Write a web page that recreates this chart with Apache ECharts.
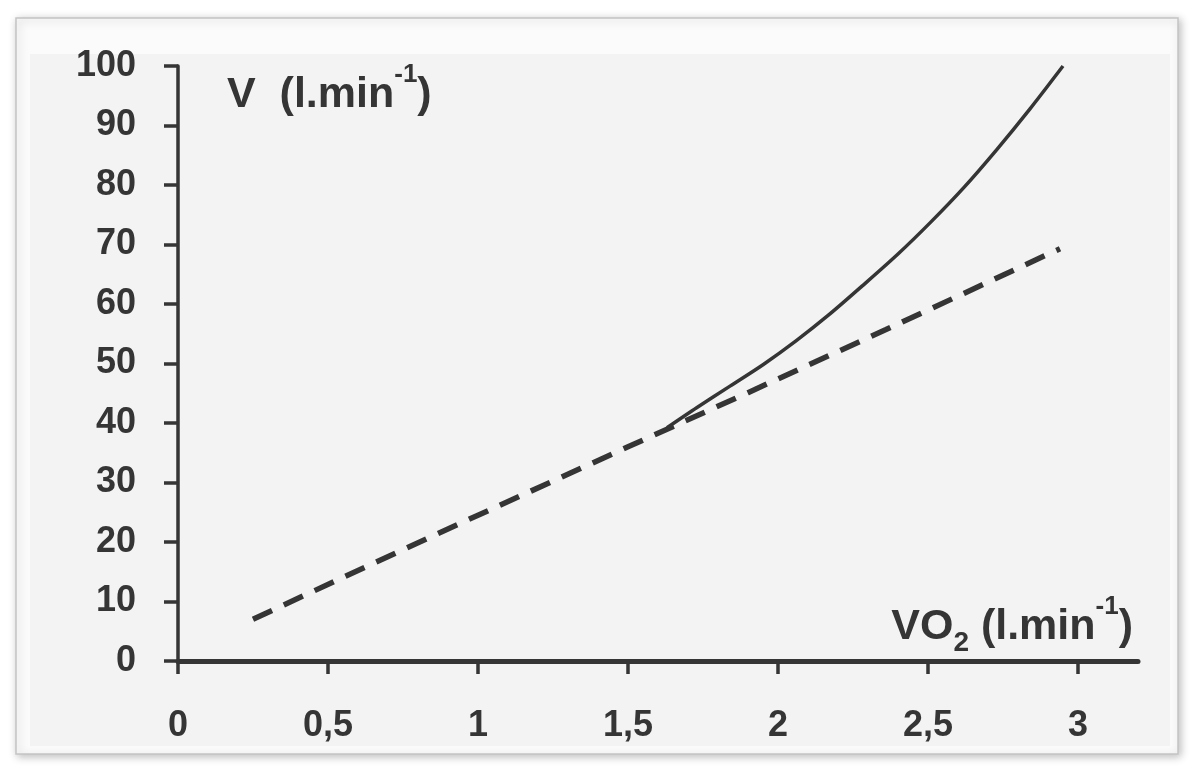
<!DOCTYPE html>
<html>
<head>
<meta charset="utf-8">
<script src="https://cdn.jsdelivr.net/npm/echarts@6/dist/echarts.min.js"></script>
<style>
  html, body { margin: 0; padding: 0; background: #fff; }
  #main { width: 1194px; height: 771px; }
</style>
</head>
<body>
<div id="main"></div>
<script>
// VO2 (l.min-1) vs ventilation V (l.min-1)
const xTicks = [0, 0.5, 1, 1.5, 2, 2.5, 3];
const yTicks = [0, 10, 20, 30, 40, 50, 60, 70, 80, 90, 100];

// measured ventilation, solid curve
const ventX = [1.63, 1.73, 1.84, 1.95, 2.06, 2.17, 2.28, 2.40, 2.51, 2.62, 2.73, 2.84, 2.95];
const ventY = [39.2, 42.6, 46.2, 49.8, 53.8, 58.2, 63.0, 68.4, 73.8, 79.6, 86.0, 92.8, 100];

// linear trend, dashed
const trendX = [0.25, 0.65, 1.0, 1.5, 1.9, 2.36, 2.94];
const trendY = [7.0, 16.4, 24.5, 36.0, 45.1, 55.7, 69.3];

const ink = '#353535';
const font = "'Liberation Sans', Arial, sans-serif";

// rich text pieces shared by both axis names
const nameRich = {
  a: { fontFamily: font, fontWeight: 'bold', fontSize: 43, color: ink, verticalAlign: 'bottom', padding: [12, 0, 8, 0] },
  sub: { fontFamily: font, fontWeight: 'bold', fontSize: 28, color: ink, verticalAlign: 'bottom' },
  sup: { fontFamily: font, fontWeight: 'bold', fontSize: 26, color: ink, verticalAlign: 'top' }
};

const myChart = echarts.init(document.getElementById('main'));
myChart.setOption({
  backgroundColor: '#ffffff',
  animation: false,
  graphic: [
    {
      type: 'rect',
      z: -10,
      shape: { x: 16, y: 18, width: 1162, height: 736 },
      style: { fill: '#fbfbfb', stroke: '#c4c4c4', lineWidth: 1.5,
               shadowBlur: 8, shadowColor: 'rgba(0,0,0,0.25)', shadowOffsetX: 2, shadowOffsetY: 2 }
    },
    {
      type: 'rect',
      z: -9,
      shape: { x: 30, y: 54, width: 1140, height: 692 },
      style: { fill: '#f3f3f3' }
    }
  ],
  grid: {
    left: 178,
    right: 56,
    top: 66,
    bottom: 110,
    containLabel: false,
    outerBoundsMode: 'none'
  },
  xAxis: {
    type: 'value',
    min: 0,
    max: 3.2,
    interval: 0.5,
    name: '{a|VO}{sub|2}{a| (l.min}{sup|-1}{a|)}',
    nameLocation: 'end',
    nameGap: -5,
    nameTextStyle: {
      align: 'right',
      verticalAlign: 'bottom',
      padding: [0, 0, 4, 0],
      rich: nameRich
    },
    splitLine: { show: false },
    axisLine: { onZero: false, lineStyle: { color: ink, width: 5 } },
    axisTick: { show: true, length: 13, customValues: xTicks, lineStyle: { color: ink, width: 3.5 } },
    axisLabel: {
      customValues: xTicks,
      margin: 47,
      fontFamily: font,
      fontWeight: 'bold',
      fontSize: 36,
      color: ink,
      formatter: v => String(v).replace('.', ',')
    }
  },
  yAxis: {
    type: 'value',
    min: 0,
    max: 100,
    interval: 10,
    name: '{a|V  (l.min}{sup|-1}{a|)}',
    nameLocation: 'end',
    nameGap: -27,
    nameTextStyle: {
      align: 'left',
      verticalAlign: 'middle',
      padding: [0, 0, 0, 49],
      rich: nameRich
    },
    splitLine: { show: false },
    axisLine: { show: true, lineStyle: { color: ink, width: 3.5 } },
    axisTick: { show: true, length: 14, customValues: yTicks, lineStyle: { color: ink, width: 3.5 } },
    axisLabel: {
      customValues: yTicks,
      margin: 42,
      fontFamily: font,
      fontWeight: 'bold',
      fontSize: 36,
      color: ink
    }
  },
  series: [
    {
      name: 'V',
      type: 'line',
      symbol: 'none',
      smooth: 0.3,
      data: ventX.map((x, i) => [x, ventY[i]]),
      lineStyle: { color: ink, width: 3.5 },
      z: 3
    },
    {
      name: 'trend',
      type: 'line',
      symbol: 'none',
      data: trendX.map((x, i) => [x, trendY[i]]),
      lineStyle: { color: ink, width: 5.5, type: [21, 13], cap: 'butt' },
      z: 4
    }
  ]
});
</script>
</body>
</html>
